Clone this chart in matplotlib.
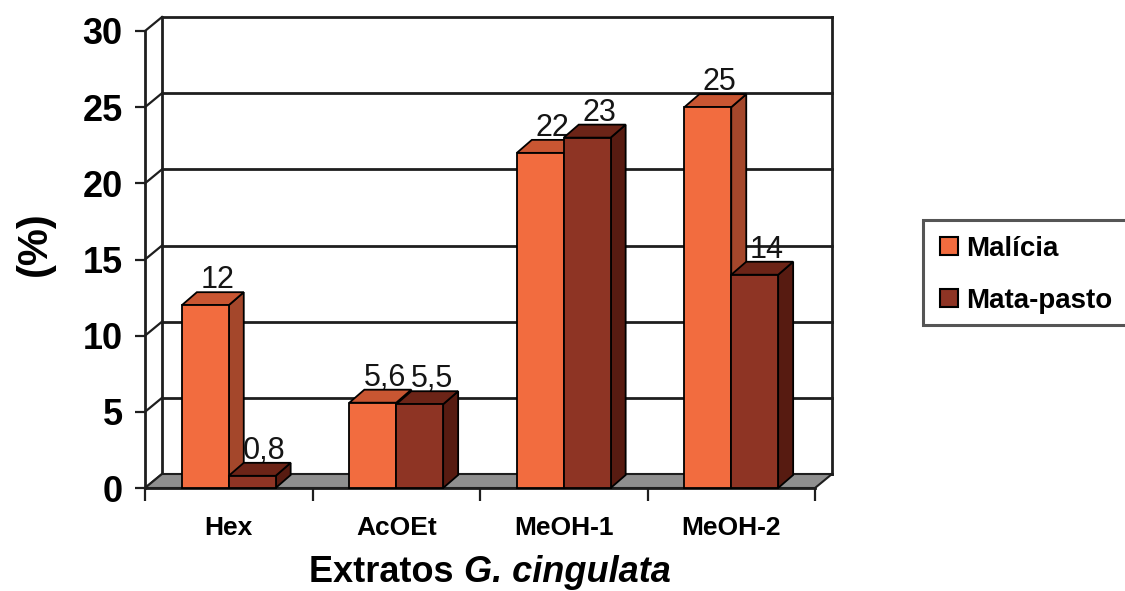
import matplotlib
matplotlib.use("Agg")
import matplotlib.pyplot as plt
from matplotlib.patches import Polygon, Rectangle, Patch

plt.rcParams['font.family'] = ['Liberation Sans', 'DejaVu Sans']

# dados: extratos de G. cingulata, % por planta
extratos = ['Hex', 'AcOEt', 'MeOH-1', 'MeOH-2']
series = ['Malícia', 'Mata-pasto']
malicia = [12, 5.6, 22, 25]
mata_pasto = [0.8, 5.5, 23, 14]
y_ticks = [0, 5, 10, 15, 20, 25, 30]

# cores: frente, topo, lateral
cores = {
    'Malícia': ('#F26C3F', '#C95632', '#A4472B'),
    'Mata-pasto': ('#8E3424', '#6C2417', '#571B11'),
}

W, H = 1125, 591
fig = plt.figure(figsize=(W / 100, H / 100), dpi=100)
ax = fig.add_axes([145 / W, 1 - 488 / H, 670 / W, 457 / H])
n = len(extratos)
ax.set_xlim(0, n)
ax.set_ylim(0, 30)

# profundidade do "3D" em unidades de dados
px_x = 670 / n
px_y = 457 / 30
wall_dx, wall_dy = 17 / px_x, 14 / px_y
bar_dx, bar_dy = 15 / px_x, 13 / px_y
bw = 0.28
linha = '#1e1e1e'

# parede do fundo e lateral esquerda
for v in y_ticks:
    ax.plot([wall_dx, n + wall_dx], [v + wall_dy] * 2, color=linha, lw=2, clip_on=False, zorder=1)
    ax.plot([0, wall_dx], [v, v + wall_dy], color=linha, lw=1.6, clip_on=False, zorder=1)
for xv in (wall_dx, n + wall_dx):
    ax.plot([xv, xv], [wall_dy, 30 + wall_dy], color=linha, lw=2, clip_on=False, zorder=1)

# piso cinza
piso = Polygon([(0, 0), (n, 0), (n + wall_dx, wall_dy), (wall_dx, wall_dy)],
               closed=True, facecolor='#8F8F8F', edgecolor=linha, lw=1.5, zorder=1.5, clip_on=False)
ax.add_patch(piso)

# barras com faces lateral e superior
for j, (nome, vals) in enumerate(zip(series, [malicia, mata_pasto])):
    frente, topo, lado = cores[nome]
    z = 3 + j * 0.2
    xs = [i + 0.5 - bw + j * bw for i in range(n)]
    for x0, v in zip(xs, vals):
        ax.add_patch(Polygon([(x0 + bw, 0), (x0 + bw + bar_dx, bar_dy),
                              (x0 + bw + bar_dx, v + bar_dy), (x0 + bw, v)],
                             closed=True, facecolor=lado, edgecolor='black', lw=1.3,
                             zorder=z, clip_on=False))
        ax.add_patch(Polygon([(x0, v), (x0 + bar_dx, v + bar_dy),
                              (x0 + bw + bar_dx, v + bar_dy), (x0 + bw, v)],
                             closed=True, facecolor=topo, edgecolor='black', lw=1.3,
                             zorder=z, clip_on=False))
        rot = f'{v:g}'.replace('.', ',')
        ax.text(x0 + bw / 2 + bar_dx * 0.8, v + bar_dy + 4 / px_y, rot,
                ha='center', va='baseline', fontsize=22, color='#151515', zorder=2.8)
    ax.bar(xs, vals, width=bw, align='edge', color=frente, edgecolor='black',
           lw=1.3, zorder=z + 0.1, clip_on=False)

# eixos
for s in ('top', 'right'):
    ax.spines[s].set_visible(False)
for s in ('left', 'bottom'):
    ax.spines[s].set_color(linha)
    ax.spines[s].set_linewidth(2)
    ax.spines[s].set_zorder(2)
ax.set_yticks(y_ticks)
ax.set_yticklabels([str(t) for t in y_ticks], fontsize=26, fontweight='bold')
ax.tick_params(axis='y', length=7, width=1.6, pad=9, color=linha)
ax.set_xticks(range(n + 1))
ax.set_xticklabels([])
ax.set_xticks([i + 0.5 for i in range(n)], minor=True)
ax.set_xticklabels(extratos, minor=True, fontsize=19, fontweight='bold')
ax.tick_params(axis='x', which='major', length=9, width=1.6, color=linha)
ax.tick_params(axis='x', which='minor', length=0, pad=20)
ax.set_facecolor('none')

fig.text(35 / W, 1 - 244 / H, '(%)', rotation=90, ha='center', va='center',
         fontsize=30, fontweight='bold')

# titulo do eixo x em duas partes (nome da especie em italico)
t1 = fig.text(0, 0, 'Extratos ', fontsize=26, fontweight='bold', va='baseline')
t2 = fig.text(0, 0, 'G. cingulata', fontsize=26, fontweight='bold', style='italic', va='baseline')
fig.canvas.draw()
r = fig.canvas.get_renderer()
w1 = t1.get_window_extent(r).width
w2 = t2.get_window_extent(r).width
x_ini = 490 - (w1 + w2) / 2
t1.set_position((x_ini / W, 1 - 582 / H))
t2.set_position(((x_ini + w1) / W, 1 - 582 / H))

# legenda
fig.add_artist(Rectangle((923 / W, 1 - 325 / H), 240 / W, 105 / H, transform=fig.transFigure,
                         facecolor='white', edgecolor='#555555', lw=2.2))
handles = [Patch(facecolor=cores[s][0], edgecolor='black', lw=1.5) for s in series]
fig.legend(handles, series, loc='upper left', bbox_to_anchor=(940 / W, 1 - 236 / H),
           bbox_transform=fig.transFigure, frameon=False, borderpad=0, borderaxespad=0,
           handlelength=0.65, handleheight=0.6, handletextpad=0.3, labelspacing=0.93,
           prop={'weight': 'bold', 'size': 20})

fig.savefig('out.png', dpi=100)
